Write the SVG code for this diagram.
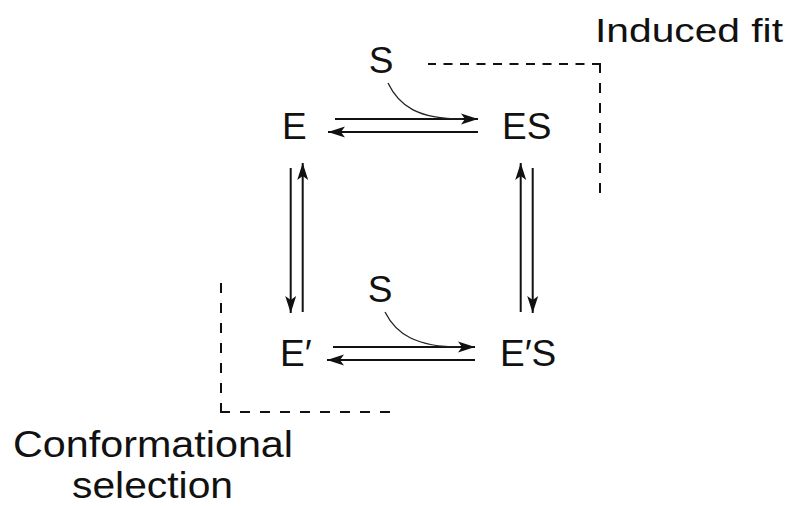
<svg xmlns="http://www.w3.org/2000/svg" width="791" height="506" viewBox="0 0 791 506">
<style>
text{font-family:"Liberation Sans",Arial,sans-serif;fill:#111;}
.node{font-size:37px;}
.lbl{font-size:37px;}
.arr{stroke:#111;stroke-width:2;fill:none;marker-end:url(#ah);}
.curve{stroke:#222;stroke-width:1.3;fill:none;}
.dash{stroke:#111;stroke-width:2;fill:none;stroke-dasharray:10 10;}
</style>
<defs>
<marker id="ah" markerUnits="userSpaceOnUse" markerWidth="20" markerHeight="14" viewBox="-18 -7 20 14" refX="0" refY="0" orient="auto">
<path d="M0,0 L-17,-5.5 L-13,0 L-17,5.5 Z" fill="#111"/>
</marker>
</defs>
<g id="E"><text class="node" x="282" y="138.5">E</text></g>
<g id="ES"><text class="node" x="502" y="138.5">ES</text></g>
<g id="Ep"><text class="node" x="280" y="366">E′</text></g>
<g id="EpS"><text class="node" x="500" y="366">E′S</text></g>
<g id="S1"><text class="node" x="381" y="73" text-anchor="middle">S</text></g>
<g id="S2"><text class="node" x="380" y="302" text-anchor="middle">S</text></g>
<g id="induced"><text x="595" y="42" style="font-size:34px" textLength="188" lengthAdjust="spacingAndGlyphs">Induced fit</text></g>
<g id="conformational">
<text class="lbl" x="13" y="457" textLength="280" lengthAdjust="spacingAndGlyphs">Conformational</text>
<text class="lbl" x="72" y="498" textLength="161" lengthAdjust="spacingAndGlyphs">selection</text>
</g>
<g id="connectors">
<line class="arr" x1="335" y1="119" x2="478" y2="119"/>
<line class="arr" x1="478" y1="132" x2="328" y2="132"/>
<path class="curve" d="M388,83 C399,106 418,119 462,119"/>
<line class="arr" x1="333" y1="347" x2="475" y2="347"/>
<line class="arr" x1="475" y1="360" x2="327" y2="360"/>
<path class="curve" d="M385,312 C396,334 416,347 460,347"/>
<line class="arr" x1="290.7" y1="168" x2="290.7" y2="313"/>
<line class="arr" x1="302.7" y1="312" x2="302.7" y2="163"/>
<line class="arr" x1="520.7" y1="312" x2="520.7" y2="163"/>
<line class="arr" x1="532.7" y1="168" x2="532.7" y2="313"/>
<line class="dash" x1="601" y1="64" x2="428" y2="64" style="stroke-dasharray:9 7.5"/>
<line class="dash" x1="600" y1="63" x2="600" y2="203"/>
<line class="dash" x1="221" y1="413" x2="221" y2="273"/>
<line class="dash" x1="220" y1="412" x2="394" y2="412"/>
</g>
</svg>
